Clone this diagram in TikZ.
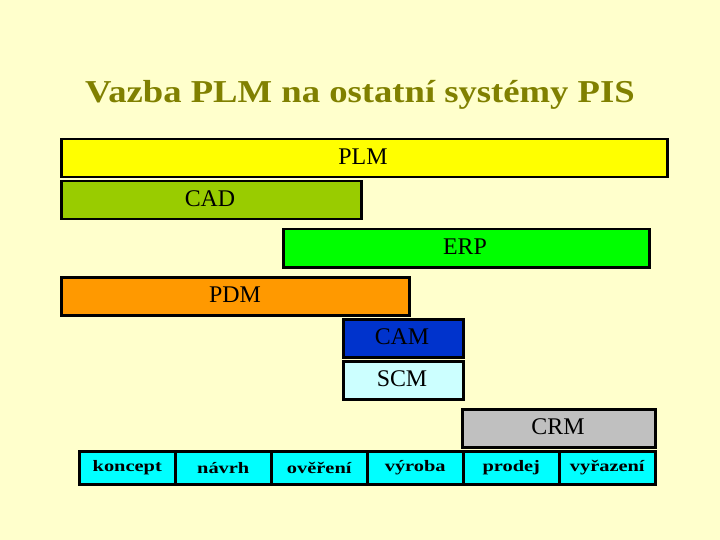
\documentclass[tikz,border=0pt]{standalone}
\usepackage{fontspec}
\setmainfont{Liberation Serif}
\newfontfamily\titlefont[FakeStretch=1.15]{Liberation Serif}
\newfontfamily\phasefont[FakeStretch=1.28]{Liberation Serif}
\definecolor{bg}{HTML}{FFFFCC}
\definecolor{olive}{HTML}{808000}
\definecolor{cplm}{HTML}{FFFF00}
\definecolor{ccad}{HTML}{99CC00}
\definecolor{cerp}{HTML}{00FF00}
\definecolor{cpdm}{HTML}{FF9900}
\definecolor{ccam}{HTML}{0033CC}
\definecolor{cscm}{HTML}{CCFFFF}
\definecolor{ccrm}{HTML}{C0C0C0}
\definecolor{cphase}{HTML}{00FFFF}
\begin{document}
\begin{tikzpicture}[x=1bp,y=-1bp,
  bar/.style={draw=black,line width=2.5bp,anchor=north west,inner sep=0pt,minimum height=38bp},
  lbl/.style={inner sep=0pt,font=\fontsize{24}{28}\selectfont},
  phase/.style={draw=black,line width=2.5bp,anchor=north west,inner sep=0pt,minimum width=96bp,minimum height=33bp,fill=cphase,font=\fontsize{16}{19}\phasefont\bfseries}]
\fill[bg] (0,0) rectangle (720,540);
\useasboundingbox (0,0) rectangle (720,540);
\node[text=olive,font=\fontsize{32}{36}\titlefont\bfseries] (title) at (360,95) {Vazba PLM na ostatní systémy PIS};
\node[bar,fill=cplm,minimum width=606bp] (plm) at (60,138) {};
\node[lbl] at (363,157) (plmt) {PLM};
\node[bar,fill=ccad,minimum width=300bp] (cad) at (60,180) {};
\node[lbl] at (210,199) (cadt) {CAD};
\node[bar,fill=cerp,minimum width=366bp] (erp) at (282,228) {};
\node[lbl] at (465,247) (erpt) {ERP};
\node[bar,fill=cpdm,minimum width=348bp] (pdm) at (60,276) {};
\node[lbl] at (235,295) (pdmt) {PDM};
\node[bar,fill=ccam,minimum width=120bp] (cam) at (342,318) {};
\node[lbl] at (402,337) (camt) {CAM};
\node[bar,fill=cscm,minimum width=120bp] (scm) at (342,360) {};
\node[lbl] at (402,379) (scmt) {SCM};
\node[bar,fill=ccrm,minimum width=193bp] (crm) at (461,408) {};
\node[lbl] at (558,427) (crmt) {CRM};
\node[phase] (p1) at (78,450) {koncept};
\node[phase] (p2) at (174,450) {návrh};
\node[phase] (p3) at (270,450) {ověření};
\node[phase] (p4) at (366,450) {výroba};
\node[phase] (p5) at (462,450) {prodej};
\node[phase] (p6) at (558,450) {vyřazení};
\end{tikzpicture}
\end{document}
